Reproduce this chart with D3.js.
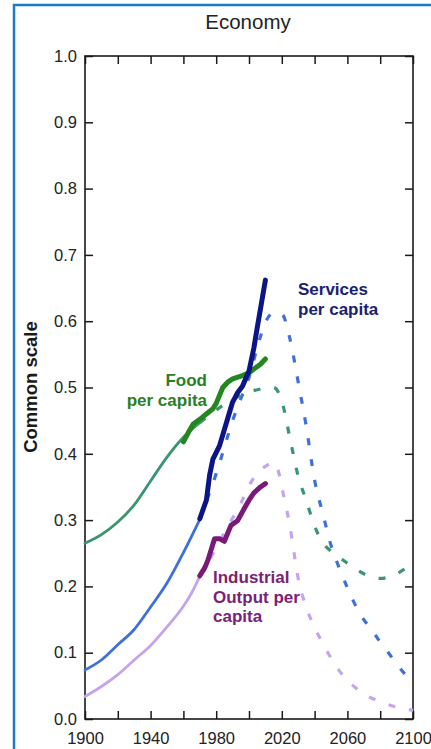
<!DOCTYPE html>
<html>
<head>
<meta charset="utf-8">
<script src="https://cdn.jsdelivr.net/npm/d3@7/dist/d3.min.js"></script>
<style>
  html, body { margin: 0; padding: 0; background: #fff; }
  svg { display: block; font-family: "Liberation Sans", Arial, sans-serif; }
</style>
</head>
<body>
<svg id="chart" width="431" height="749"></svg>
<script>
// Year ticks and labels
const xTicks = [1900, 1920, 1940, 1960, 1980, 2000, 2020, 2040, 2060, 2080, 2100];
const xLabels = [1900, 1940, 1980, 2020, 2060, 2100];
const yTicks = [0, 0.1, 0.2, 0.3, 0.4, 0.5, 0.6, 0.7, 0.8, 0.9, 1.0];

// Standard-run model series [year, value] (solid to 1970, dashed afterwards)
const foodModel = [
  [1900, 0.265], [1910, 0.278], [1920, 0.297], [1930, 0.323], [1940, 0.359],
  [1950, 0.395], [1960, 0.425], [1970, 0.447], [1980, 0.466], [1990, 0.482],
  [2000, 0.493], [2010, 0.499], [2015, 0.500], [2020, 0.480], [2025, 0.423],
  [2030, 0.366], [2035, 0.329], [2040, 0.291], [2045, 0.266], [2050, 0.253],
  [2055, 0.244], [2060, 0.235], [2070, 0.219], [2080, 0.212], [2090, 0.219],
  [2100, 0.236]
];
const servicesModel = [
  [1900, 0.074], [1910, 0.089], [1920, 0.112], [1930, 0.135], [1940, 0.169],
  [1950, 0.205], [1960, 0.251], [1970, 0.301], [1975, 0.335], [1980, 0.370],
  [1985, 0.410], [1990, 0.450], [1995, 0.483], [2000, 0.515], [2005, 0.560],
  [2010, 0.598], [2015, 0.613], [2020, 0.611], [2025, 0.573], [2030, 0.508],
  [2035, 0.440], [2040, 0.360], [2045, 0.310], [2050, 0.262], [2055, 0.228],
  [2060, 0.198], [2065, 0.171], [2070, 0.150], [2075, 0.134], [2080, 0.116],
  [2085, 0.100], [2090, 0.083], [2095, 0.068], [2100, 0.055]
];
const industryModel = [
  [1900, 0.034], [1910, 0.049], [1920, 0.067], [1930, 0.089], [1940, 0.111],
  [1950, 0.139], [1960, 0.170], [1965, 0.190], [1970, 0.215], [1975, 0.236],
  [1980, 0.258], [1985, 0.281], [1990, 0.303], [1995, 0.325], [2000, 0.352],
  [2005, 0.370], [2010, 0.381], [2015, 0.387], [2018, 0.373], [2020, 0.350],
  [2025, 0.290], [2030, 0.212], [2035, 0.168], [2040, 0.138], [2045, 0.114],
  [2050, 0.092], [2055, 0.073], [2060, 0.059], [2065, 0.047], [2070, 0.038],
  [2080, 0.026], [2090, 0.018], [2100, 0.013]
];

// Observed data series [year, value]
const foodData = [
  [1960, 0.418], [1963, 0.432], [1966, 0.445], [1970, 0.452], [1974, 0.460],
  [1978, 0.468], [1980, 0.476], [1984, 0.500], [1987, 0.508], [1990, 0.513],
  [1996, 0.518], [2000, 0.522], [2003, 0.528], [2007, 0.535], [2010, 0.543]
];
const servicesData = [
  [1970, 0.302], [1974, 0.330], [1976, 0.368], [1978, 0.392], [1982, 0.412],
  [1986, 0.445], [1990, 0.478], [1993, 0.492], [1996, 0.502], [2000, 0.525],
  [2003, 0.560], [2005, 0.590], [2010, 0.662]
];
const industryData = [
  [1970, 0.216], [1973, 0.228], [1975, 0.240], [1979, 0.272], [1982, 0.272],
  [1985, 0.268], [1989, 0.292], [1993, 0.299], [1997, 0.317], [2000, 0.330],
  [2003, 0.341], [2007, 0.350], [2010, 0.355]
];

const splitYear = 1970;

const svg = d3.select("#chart");

// outer blue frame
svg.append("rect")
  .attr("x", 14).attr("y", 5)
  .attr("width", 430).attr("height", 760)
  .attr("fill", "none")
  .attr("stroke", "#1a7dbf")
  .attr("stroke-width", 2.5);

const x = d3.scaleLinear().domain([1900, 2100]).range([85, 413]);
const y = d3.scaleLinear().domain([0, 1]).range([719, 56]);

// title
svg.append("text")
  .attr("x", 248).attr("y", 29)
  .attr("text-anchor", "middle")
  .attr("font-size", 20.5)
  .attr("fill", "#222")
  .text("Economy");

// y axis title
svg.append("text")
  .attr("transform", "translate(37,387) rotate(-90)")
  .attr("text-anchor", "middle")
  .attr("font-size", 18.5)
  .attr("font-weight", "bold")
  .attr("fill", "#1a1a1a")
  .text("Common scale");

// axes (ticks point inward)
const axisColor = "#1a1a1a";
function styleAxis(g) {
  g.select(".domain").remove();
  g.selectAll(".tick line").attr("stroke", axisColor).attr("stroke-width", 1.5);
  g.selectAll(".tick text").attr("fill", "#222").attr("font-size", 16.5)
    .attr("font-family", "Liberation Sans, Arial, sans-serif");
}

svg.append("g")
  .attr("transform", `translate(0,${y(0)})`)
  .call(d3.axisBottom(x).tickValues(xTicks).tickSizeInner(-8).tickSizeOuter(0)
    .tickPadding(13)
    .tickFormat(d => xLabels.includes(d) ? String(d) : ""))
  .call(styleAxis);

svg.append("g")
  .attr("transform", `translate(0,${y(1)})`)
  .call(d3.axisTop(x).tickValues(xTicks).tickSizeInner(-8).tickSizeOuter(0)
    .tickFormat(""))
  .call(styleAxis);

svg.append("g")
  .attr("transform", `translate(${x(1900)},0)`)
  .call(d3.axisLeft(y).tickValues(yTicks).tickSizeInner(-8).tickSizeOuter(0)
    .tickPadding(8).tickFormat(d3.format(".1f")))
  .call(styleAxis);

svg.append("g")
  .attr("transform", `translate(${x(2100)},0)`)
  .call(d3.axisRight(y).tickValues(yTicks).tickSizeInner(-8).tickSizeOuter(0)
    .tickFormat(""))
  .call(styleAxis);

// plot frame
svg.append("rect")
  .attr("x", x(1900)).attr("y", y(1))
  .attr("width", x(2100) - x(1900)).attr("height", y(0) - y(1))
  .attr("fill", "none")
  .attr("stroke", axisColor)
  .attr("stroke-width", 1.6);

const smooth = d3.line().x(d => x(d[0])).y(d => y(d[1])).curve(d3.curveMonotoneX);
const jagged = d3.line().x(d => x(d[0])).y(d => y(d[1])).curve(d3.curveLinear);

const plot = svg.append("g");

function drawModel(series, color) {
  const past = series.filter(d => d[0] <= splitYear);
  const future = series.filter(d => d[0] >= splitYear);
  plot.append("path")
    .attr("d", smooth(past))
    .attr("fill", "none")
    .attr("stroke", color)
    .attr("stroke-width", 2.8)
    .attr("stroke-linecap", "round");
  plot.append("path")
    .attr("d", smooth(future))
    .attr("fill", "none")
    .attr("stroke", color)
    .attr("stroke-width", 3.2)
    .attr("stroke-dasharray", "7,14");
}

function drawData(series, color) {
  plot.append("path")
    .attr("d", jagged(series))
    .attr("fill", "none")
    .attr("stroke", color)
    .attr("stroke-width", 5)
    .attr("stroke-linecap", "round")
    .attr("stroke-linejoin", "round");
}

drawModel(industryModel, "#c4a4ec");
drawModel(servicesModel, "#3f70da");
drawModel(foodModel, "#3a9570");

drawData(foodData, "#23861f");
drawData(industryData, "#7a1a78");
drawData(servicesData, "#0c1585");

// series labels
function label(lines, xPos, yPos, color, anchor) {
  const t = svg.append("text")
    .attr("font-size", 17)
    .attr("font-weight", "bold")
    .attr("fill", color)
    .attr("text-anchor", anchor);
  lines.forEach((s, i) => {
    t.append("tspan").attr("x", xPos).attr("y", yPos + i * 19.5).text(s);
  });
}

label(["Food", "per capita"], 207, 386, "#2a7f26", "end");
label(["Services", "per capita"], 298, 295, "#1a2170", "start");
label(["Industrial", "Output per", "capita"], 213, 583, "#7a2178", "start");
</script>
</body>
</html>
